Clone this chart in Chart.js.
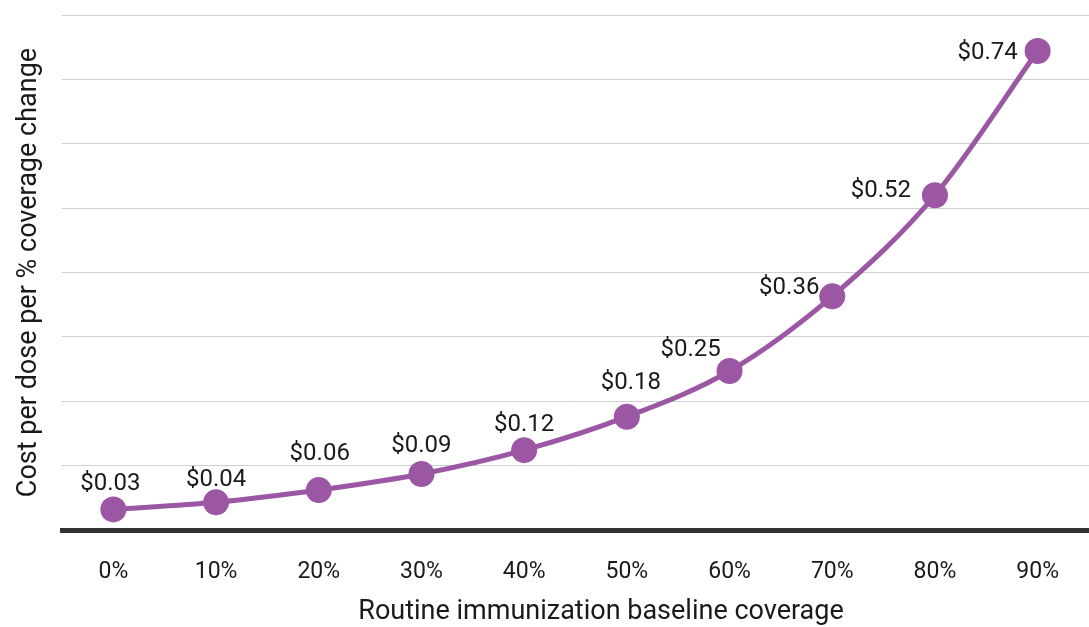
<!DOCTYPE html>
<html>
<head>
<meta charset="utf-8">
<script src="https://cdn.jsdelivr.net/npm/chart.js@4.4.1/dist/chart.umd.min.js"></script>
<style>
  html, body { margin: 0; padding: 0; background: #fff; overflow: hidden; }
  canvas { display: block; }
</style>
</head>
<body>
<canvas id="costChart" width="1089" height="627"></canvas>
<script>
// Chart data
const coverageLabels = ['0%', '10%', '20%', '30%', '40%', '50%', '60%', '70%', '80%', '90%'];
const costPerDose = [0.032, 0.043, 0.062, 0.087, 0.124, 0.176, 0.247, 0.363, 0.520, 0.744];
const yTickValues = [0, 0.1, 0.2, 0.3, 0.4, 0.5, 0.6, 0.7, 0.8];

const purple = '#9b57a4';
const textColor = '#1a1a1a';
const fontFamily = 'Roboto, "Noto Sans", sans-serif';

// Label placement relative to each point (dx, dy in px)
const labelOffsets = [
    [-3, -25], [0, -22], [1, -36], [0, -28], [0, -25],
    [4, -34], [-39, -21], [-43, -8], [-54, -4], [-50, 2]
];

// Draws the "$0.xx" labels next to the points
const pointLabels = {
    id: 'pointLabels',
    afterDatasetsDraw(chart) {
        const ctx = chart.ctx;
        const meta = chart.getDatasetMeta(0);
        ctx.save();
        ctx.font = '24px ' + fontFamily;
        ctx.fillStyle = textColor;
        ctx.textAlign = 'center';
        ctx.textBaseline = 'middle';
        meta.data.forEach((pt, i) => {
            const [dx, dy] = labelOffsets[i];
            ctx.fillText('$' + costPerDose[i].toFixed(2), pt.x + dx, pt.y + dy);
        });
        ctx.restore();
    }
};

// X axis title, sits a bit right of the plot centre in the original
const xTitle = {
    id: 'xTitle',
    afterDraw(chart) {
        const ctx = chart.ctx;
        ctx.save();
        ctx.font = '27px ' + fontFamily;
        ctx.fillStyle = textColor;
        ctx.textAlign = 'center';
        ctx.textBaseline = 'middle';
        ctx.fillText('Routine immunization baseline coverage', 601, 612);
        ctx.restore();
    }
};

const ctx = document.getElementById('costChart').getContext('2d');
new Chart(ctx, {
    type: 'line',
    data: {
        labels: coverageLabels,
        datasets: [{
            data: costPerDose,
            borderColor: purple,
            backgroundColor: purple,
            borderWidth: 5,
            pointRadius: 13,
            pointHoverRadius: 13,
            pointBorderWidth: 0,
            pointBackgroundColor: purple,
            cubicInterpolationMode: 'monotone',
            fill: false,
            clip: false
        }]
    },
    options: {
        responsive: false,
        animation: false,
        layout: { autoPadding: false, padding: { top: 15, left: 0, right: 0, bottom: 0 } },
        plugins: {
            legend: { display: false },
            tooltip: { enabled: false }
        },
        scales: {
            x: {
                offset: true,
                grid: { display: false, drawTicks: false },
                border: { display: true, color: '#333333', width: 5 },
                ticks: {
                    padding: 28,
                    color: textColor,
                    font: { family: fontFamily, size: 23 }
                },
                afterFit(scale) { scale.height = 97; }
            },
            y: {
                min: 0,
                max: 0.8,
                afterBuildTicks(scale) {
                    scale.ticks = yTickValues.map(v => ({ value: v }));
                },
                ticks: { display: false },
                grid: { color: '#cfcfd3', lineWidth: 1, drawTicks: false },
                border: { display: false },
                title: {
                    display: true,
                    text: 'Cost per dose per % coverage change',
                    color: textColor,
                    font: { family: fontFamily, size: 27 },
                    padding: { top: 13, bottom: 0 }
                },
                afterFit(scale) { scale.width = 62; }
            }
        }
    },
    plugins: [pointLabels, xTitle]
});
</script>
</body>
</html>
